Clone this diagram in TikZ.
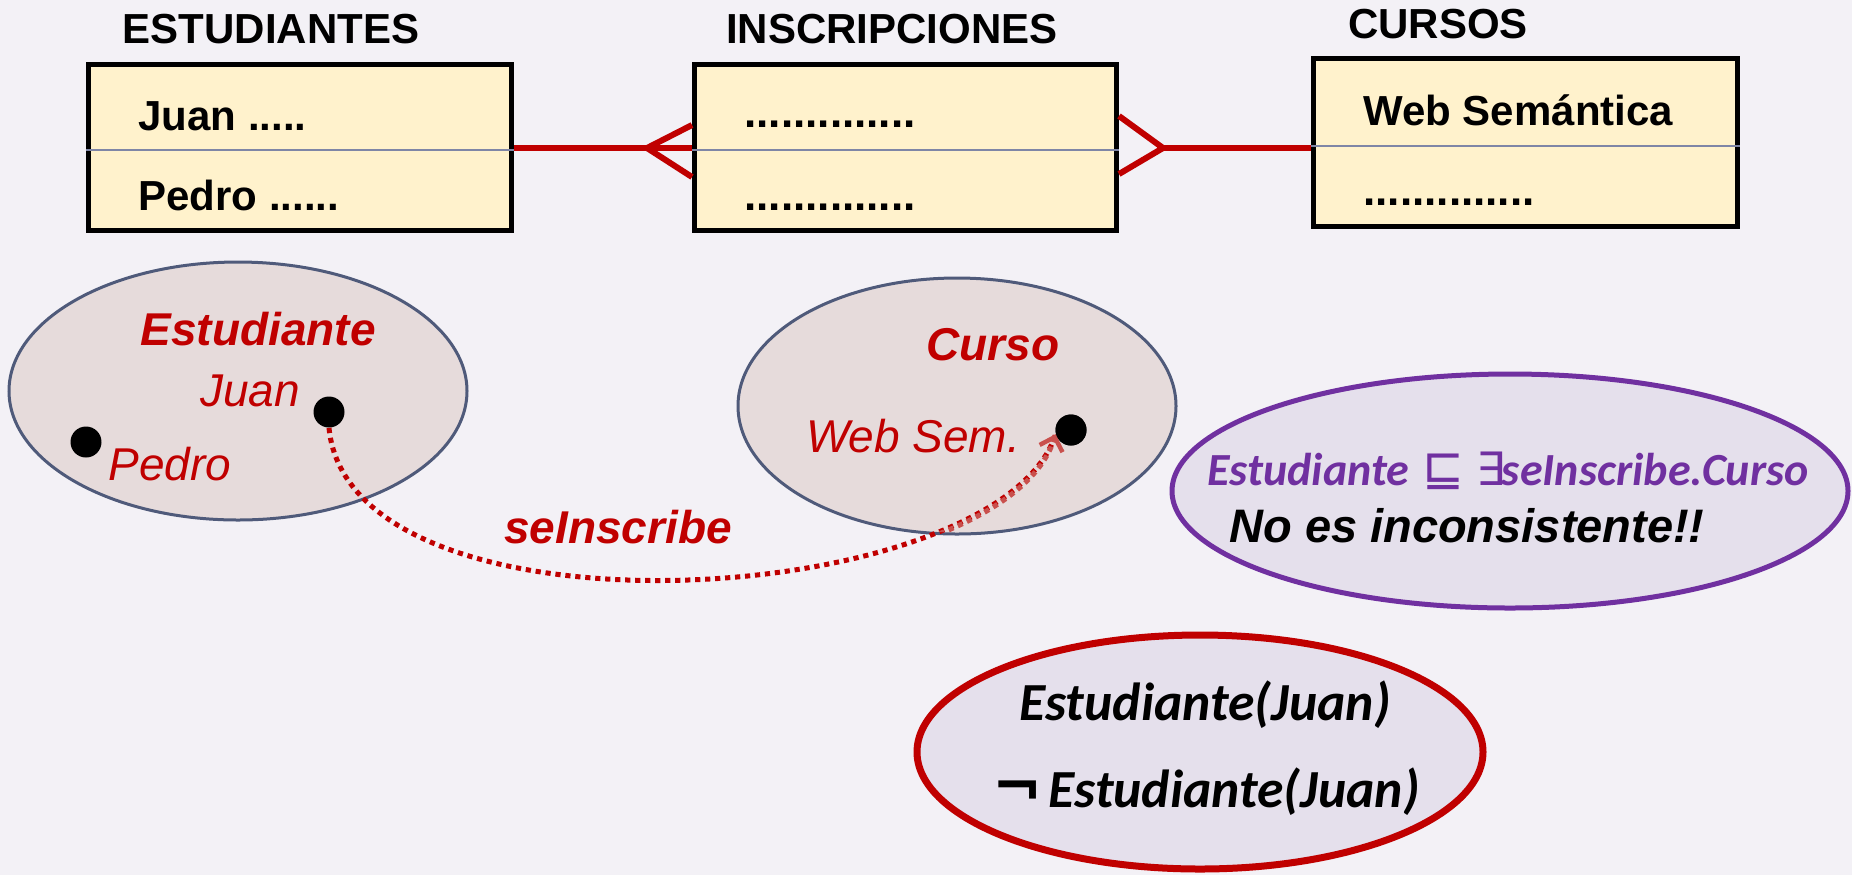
\documentclass[tikz,border=0pt]{standalone}
\usepackage{fontspec}
\setmainfont{Liberation Sans}
\newfontfamily\calib{Carlito}
\newfontfamily\djv{DejaVu Sans}
\usetikzlibrary{shapes.geometric,arrows.meta}
\definecolor{bgc}{HTML}{F3F1F6}
\definecolor{boxfill}{HTML}{FFF2CC}
\definecolor{divc}{HTML}{7F86A6}
\definecolor{redc}{HTML}{C00000}
\definecolor{lightred}{HTML}{C9504D}
\definecolor{ellfill}{HTML}{E6DBDB}
\definecolor{ellline}{HTML}{4F5A7A}
\definecolor{purp}{HTML}{7030A0}
\definecolor{lavfill}{HTML}{E5E0EC}
\newcommand\myfs[1]{\fontsize{#1}{#1}\selectfont}
\tikzset{
  tbl/.style={rectangle, draw=black, line width=2.5pt, fill=boxfill, inner sep=0pt},
  divider/.style={draw=divc, line width=1.2pt},
  title/.style={anchor=base, font=\myfs{21}\bfseries, inner sep=0pt},
  tbltxt/.style={anchor=base west, font=\myfs{21}\bfseries, inner sep=0pt},
  rel/.style={draw=redc, line width=3pt},
  setell/.style={ellipse, draw=ellline, line width=1.5pt, fill=ellfill, inner sep=0pt},
  redbi/.style={anchor=base, text=redc, font=\myfs{23}\bfseries\itshape, inner sep=0pt},
  redi/.style={anchor=base, text=redc, font=\myfs{23}\itshape, inner sep=0pt},
  dotn/.style={circle, fill=black, minimum size=15.5pt, inner sep=0pt},
  rolecurve/.style={line width=2.5pt, dash pattern=on 2.6pt off 2.4pt},
}
\begin{document}
\begin{tikzpicture}[x=0.5pt,y=-0.5pt]
\useasboundingbox (0,0) rectangle (1852,875);
\fill[bgc] (0,0) rectangle (1852,875);

% titles
\node[title] (t1) at (271,43) {ESTUDIANTES};
\node[title] (t2) at (892,43) {INSCRIPCIONES};
\node[title] (t3) at (1438,38) {CURSOS};

% tables
\node[tbl, minimum width=211.5pt, minimum height=83pt] (est) at (300,147.5) {};
\node[tbl, minimum width=211pt, minimum height=83pt] (ins) at (905.5,147.5) {};
\node[tbl, minimum width=212pt, minimum height=84pt] (cur) at (1525.5,142.5) {};

\coordinate (y1) at (0,150);
\coordinate (y3) at (0,146);
\draw[divider] (est.west |- y1) -- (est.east |- y1);
\draw[divider] (ins.west |- y1) -- (ins.east |- y1);
\draw[divider] (cur.west |- y3) -- (cur.east |- y3);

\node[tbltxt] (juanrow) at (138,130) {Juan .....};
\node[tbltxt] (pedrorow) at (138,210) {Pedro ......};
\node[tbltxt, font=\myfs{22}\bfseries] (insrow1) at (744,127) {..............};
\node[tbltxt, font=\myfs{22}\bfseries] (insrow2) at (744,210) {..............};
\node[tbltxt] (wsrow) at (1363,125) {Web Semántica};
\node[tbltxt, font=\myfs{22}\bfseries] (currow2) at (1363,205) {..............};

% crow's foot connectors
\coordinate (cfL) at (647,148);
\coordinate (pL1) at (0,125);
\coordinate (pL2) at (0,177);
\draw[rel] (est.east |- cfL) -- (ins.west |- cfL);
\draw[rel] (ins.west |- pL1) -- (cfL) -- (ins.west |- pL2);

\coordinate (cfR) at (1163,148);
\coordinate (pR1) at (0,116);
\coordinate (pR2) at (0,174);
\draw[rel] (cfR) -- (cur.west |- cfR);
\draw[rel] (ins.east |- pR1) -- (cfR) -- (ins.east |- pR2);

% concept ellipses
\node[setell, minimum width=229pt, minimum height=129pt] (estE) at (238,391) {};
\node[setell, minimum width=219pt, minimum height=128pt] (curE) at (957,406) {};

\node[redbi] (lEst) at (258,345) {Estudiante};
\node[redi] (lJuan) at (250,406) {Juan};
\node[redi] (lPedro) at (170,480) {Pedro};
\node[redbi] (lCurso) at (993,360) {Curso};
\node[redi] (lWeb) at (913,452) {Web Sem.};
\node[redbi] (lRole) at (618,543) {seInscribe};

\node[dotn] (juandot) at (329,412) {};
\node[dotn] (pedrodot) at (86,442) {};
\node[dotn] (webdot) at (1071,430) {};

% role curve
\draw[rolecurve, draw=redc] (juandot.south) .. controls (350,650) and (1000,610) .. (webdot.195);
\begin{scope}
\clip (curE.center) ellipse [x radius=108.5pt, y radius=63.2pt];
\draw[rolecurve, draw=lightred, -{Straight Barb[length=6pt,width=12pt,line width=2.2pt]}] (juandot.south) .. controls (350,650) and (1000,610) .. (webdot.195);
\end{scope}
\node[dotn] at (webdot) {};

% axiom ellipse
\node[ellipse, draw=purp, line width=2.5pt, fill=lavfill, minimum width=338pt, minimum height=117pt, inner sep=0pt] (axE) at (1510,491) {};
\node[anchor=base, inner sep=0pt, text=purp, font=\myfs{23}] (axT) at (1508,485)
  {{\calib\bfseries\itshape Estudiante} {\djv\myfs{25}⊑} {\djv ∃}\kern-2pt{\calib\bfseries\itshape seInscribe.Curso}};
\node[anchor=base, inner sep=0pt, font=\myfs{23.5}\bfseries\itshape] (noInc) at (1467,542) {No es inconsistente!!};

% contradiction ellipse
\node[ellipse, draw=redc, line width=3.5pt, fill=lavfill, minimum width=283pt, minimum height=117pt, inner sep=0pt] (abE) at (1200,752) {};
\node[anchor=base, inner sep=0pt, font=\calib\myfs{26.8}\bfseries\itshape] (a1) at (1205,720) {Estudiante(Juan)};
\node[anchor=base, inner sep=0pt, font=\calib\myfs{26.8}\bfseries\itshape] (a2) at (1206,807) {{\djv\bfseries\upshape\myfs{30}¬}\kern3pt Estudiante(Juan)};
\end{tikzpicture}
\end{document}
